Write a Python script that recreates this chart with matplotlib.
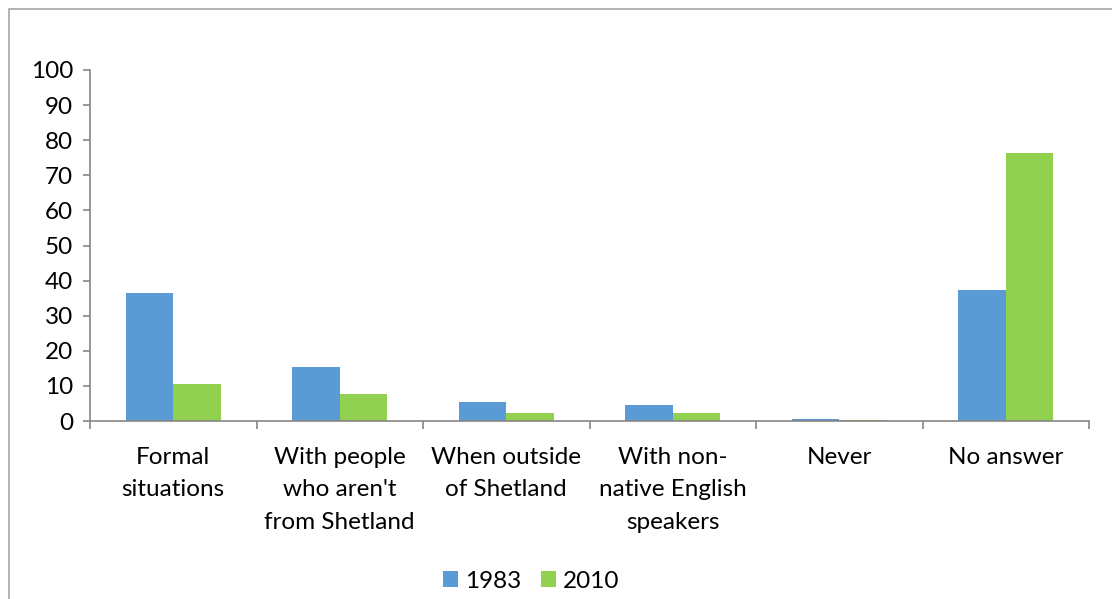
import matplotlib.pyplot as plt
import numpy as np
from matplotlib.patches import Rectangle

# data
categories = ["Formal\nsituations", "With people\nwho aren't\nfrom Shetland",
              "When outside\nof Shetland", "With non-\nnative English\nspeakers",
              "Never", "No answer"]
years = ["1983", "2010"]
values_1983 = [36.4, 15.4, 5.3, 4.5, 0.6, 37.3]
values_2010 = [10.6, 7.6, 2.3, 2.3, 0.3, 76.3]
colors = ["#5B9BD5", "#92D050"]

plt.rcParams['font.family'] = ['Lato', 'DejaVu Sans']
fs = 17.5

fig = plt.figure(figsize=(11.12, 5.99), dpi=100)
ax = fig.add_axes([90 / 1112, 1 - 421 / 599, 999 / 1112, 351 / 599])

# outer chart border
fig.patches.append(Rectangle((9 / 1112, -0.1), 1.2, 1 - 9 / 599 + 0.1,
                             transform=fig.transFigure, fill=False,
                             edgecolor="#A6A6A6", linewidth=1.2))

x = np.arange(len(categories))
w = 0.285
ax.bar(x - w / 2, values_1983, w, color=colors[0], label=years[0])
ax.bar(x + w / 2, values_2010, w, color=colors[1], label=years[1])

ax.set_xlim(-0.5, len(categories) - 0.5)
ax.set_ylim(0, 100)
ax.set_yticks(range(0, 101, 10))

ax.set_xticks(np.arange(-0.5, len(categories)), minor=False)
ax.set_xticklabels([])
ax.set_xticks(x, minor=True)
ax.set_xticklabels(categories, minor=True, fontsize=fs, linespacing=1.68)
ax.tick_params(axis="x", which="minor", length=0, pad=18.5)
ax.tick_params(axis="x", which="major", length=6, color="#868686", width=1.2)
ax.tick_params(axis="y", length=5, color="#868686", width=1.2, labelsize=fs, pad=7)

for s in ["top", "right"]:
    ax.spines[s].set_visible(False)
for s in ["left", "bottom"]:
    ax.spines[s].set_color("#868686")
    ax.spines[s].set_linewidth(1.2)

fig.legend(loc="center", bbox_to_anchor=(531 / 1112, 1 - 581 / 599), ncol=2,
           frameon=False, fontsize=fs, handlelength=0.62, handleheight=0.62,
           handletextpad=0.3, columnspacing=0.8)

fig.savefig("out.png", dpi=100)
